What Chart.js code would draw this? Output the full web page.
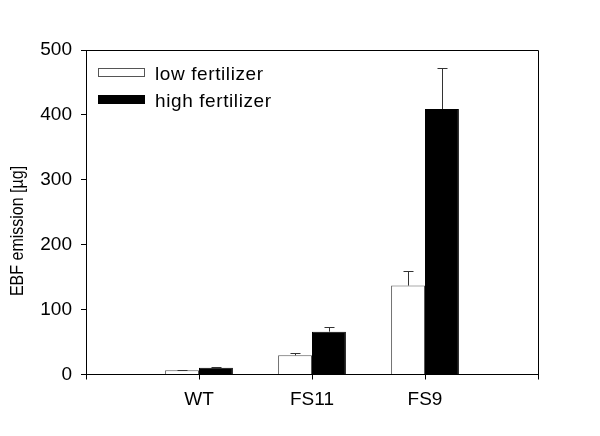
<!DOCTYPE html>
<html>
<head>
<meta charset="utf-8">
<script src="https://cdn.jsdelivr.net/npm/chart.js@4"></script>
<style>
html,body{margin:0;padding:0;background:#fff;}
#wrap{width:600px;height:436px;}
</style>
</head>
<body>
<div id="wrap"><canvas id="c" width="600" height="436"></canvas></div>
<script>
const categories = ['', 'WT', 'FS11', 'FS9', ''];
const lowFertilizer = [null, 6.5, 29.5, 137, null];
const highFertilizer = [null, 10.5, 66, 409, null];
const lowErr = [null, 1, 3, 23, null];
const highErr = [null, 1, 7, 64, null];
const yTicks = [0, 100, 200, 300, 400, 500];
const seriesNames = ['low fertilizer', 'high fertilizer'];
const yTitle = 'EBF emission [µg]';

const FONT = "'Liberation Sans', Arial, sans-serif";

const errorBars = {
  id: 'errorBars',
  afterDatasetsDraw(chart) {
    const ctx = chart.ctx;
    const y = chart.scales.y;
    const errs = [lowErr, highErr];
    ctx.save();
    ctx.strokeStyle = '#333';
    ctx.lineWidth = 1;
    chart.data.datasets.forEach((ds, di) => {
      const meta = chart.getDatasetMeta(di);
      meta.data.forEach((bar, i) => {
        const v = ds.data[i];
        const e = errs[di][i];
        if (v == null || e == null) return;
        const x = Math.round(bar.x) + 0.5;
        const y0 = y.getPixelForValue(v);
        const y1 = Math.round(y.getPixelForValue(v + e)) + 0.5;
        ctx.beginPath();
        ctx.moveTo(x, y0);
        ctx.lineTo(x, y1);
        ctx.moveTo(x - 5, y1);
        ctx.lineTo(x + 5, y1);
        ctx.stroke();
      });
    });
    ctx.restore();
  }
};

const frame = {
  id: 'frame',
  afterDraw(chart) {
    const ctx = chart.ctx;
    const a = chart.chartArea;
    ctx.save();
    ctx.strokeStyle = '#000';
    ctx.lineWidth = 1;
    ctx.beginPath();
    ctx.moveTo(Math.round(a.left) + 0.5, Math.round(a.top) + 0.5);
    ctx.lineTo(Math.round(a.right) + 0.5, Math.round(a.top) + 0.5);
    ctx.lineTo(Math.round(a.right) + 0.5, Math.round(a.bottom) + 0.5);
    ctx.stroke();
    // y-axis title
    ctx.save();
    ctx.translate(18, 231);
    ctx.rotate(-Math.PI / 2);
    ctx.scale(1, 1.2);
    ctx.font = '16px ' + FONT;
    ctx.textAlign = 'center';
    ctx.textBaseline = 'middle';
    ctx.fillStyle = '#000';
    ctx.fillText(yTitle, 0, 0);
    ctx.restore();
    // legend
    const ds = chart.data.datasets;
    ctx.font = '19px ' + FONT;
    try { ctx.letterSpacing = '0.6px'; } catch (e) {}
    ctx.textBaseline = 'alphabetic';
    const bx = a.left + 12, bw = 46, bh = 8;
    const rows = [72, 98.5];
    ds.forEach((d, i) => {
      const cy = rows[i];
      ctx.fillStyle = d.backgroundColor;
      ctx.fillRect(bx, Math.round(cy - bh / 2), bw, bh);
      ctx.strokeStyle = d.borderColor;
      ctx.strokeRect(bx + 0.5, Math.round(cy - bh / 2) + 0.5, bw, bh);
      ctx.fillStyle = '#000';
      ctx.fillText(d.label, bx + bw + 11, cy + 8);
    });
    ctx.restore();
  }
};

new Chart(document.getElementById('c'), {
  type: 'bar',
  data: {
    labels: categories,
    datasets: [
      { label: seriesNames[0], data: lowFertilizer, backgroundColor: '#ffffff', borderColor: '#555', borderWidth: 1 },
      { label: seriesNames[1], data: highFertilizer, backgroundColor: '#000000', borderColor: '#000', borderWidth: 1 }
    ]
  },
  options: {
    responsive: false,
    animation: false,
    devicePixelRatio: 1,
    layout: { padding: { top: 50, right: 62, bottom: 0, left: 0 } },
    plugins: { legend: { display: false }, tooltip: { enabled: false } },
    datasets: { bar: { categoryPercentage: 0.6, barPercentage: 1.0 } },
    scales: {
      x: {
        offset: false,
        grid: { offset: false, drawOnChartArea: false, color: '#000', tickLength: 5, tickColor: '#000' },
        border: { color: '#000', width: 1 },
        ticks: { color: '#000', font: { family: FONT, size: 19 }, padding: 9, maxRotation: 0, autoSkip: false },
        afterFit(s) { s.height = 61.5; }
      },
      y: {
        min: 0, max: 500,
        afterBuildTicks(s) { s.ticks = yTicks.map(v => ({ value: v })); },
        grid: { drawOnChartArea: false, color: '#000', tickLength: 5, tickColor: '#000' },
        border: { color: '#000', width: 1 },
        ticks: { color: '#000', font: { family: FONT, size: 19 }, padding: 9 },
        title: { display: false },
        afterFit(s) { s.width = 86; }
      }
    }
  },
  plugins: [errorBars, frame]
});
</script>
</body>
</html>
